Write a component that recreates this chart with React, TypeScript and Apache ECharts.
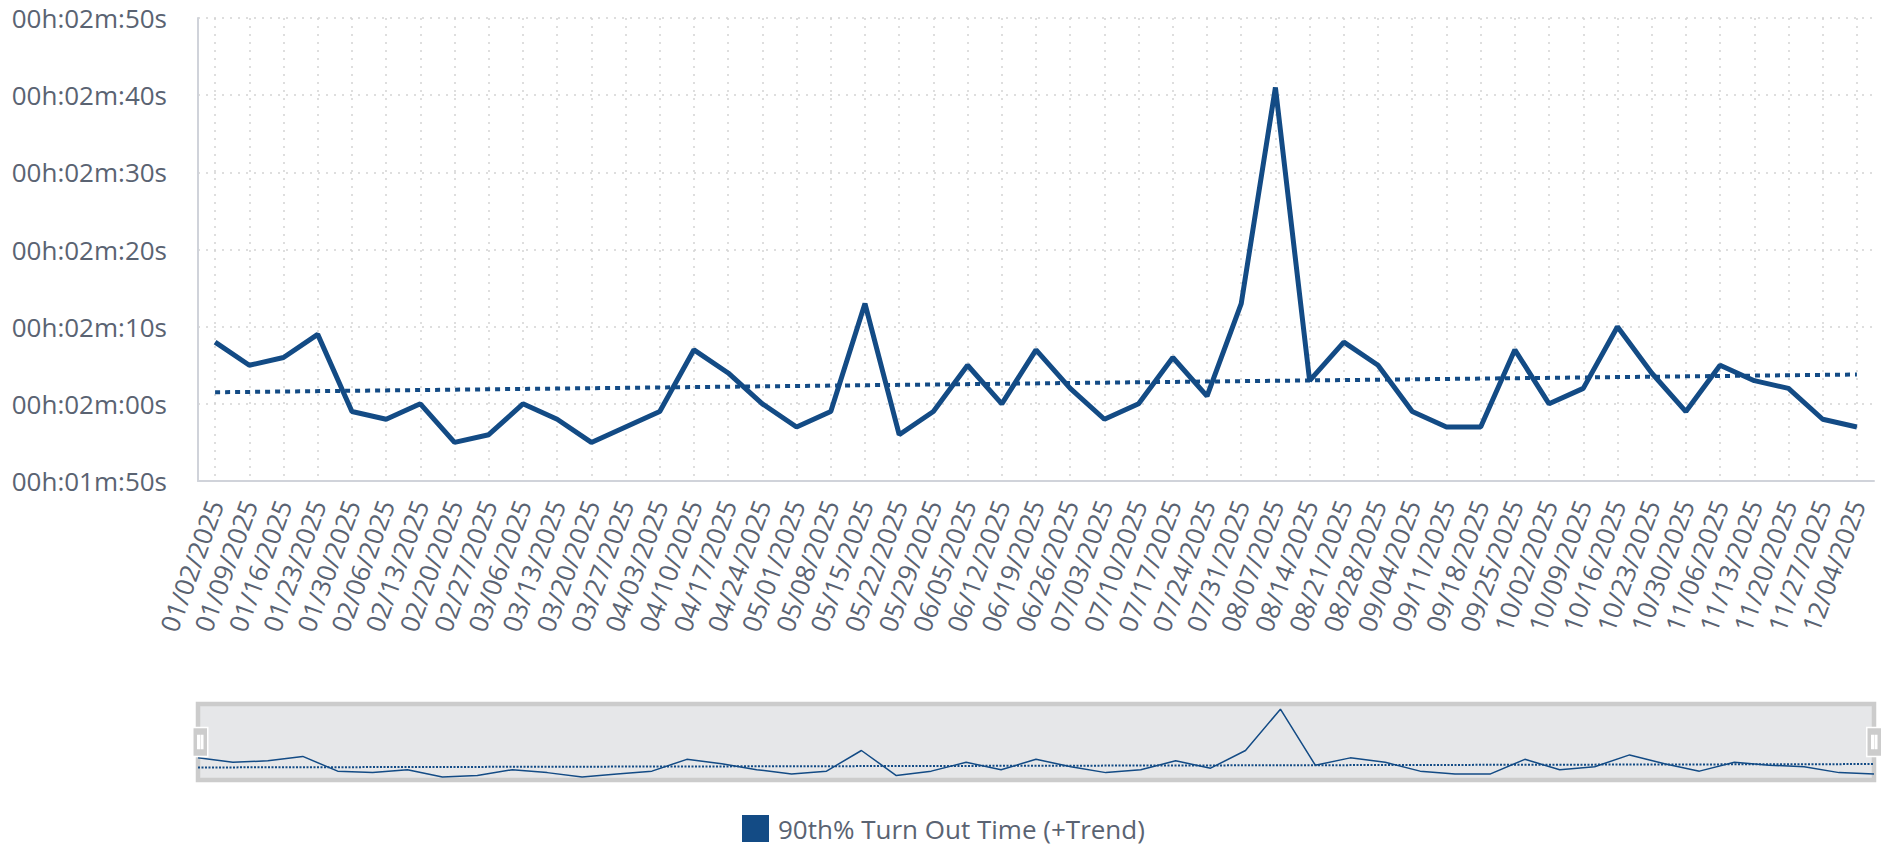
import React, { useEffect, useRef } from 'react';
import * as echarts from 'echarts';

const categories: string[] = [
  '01/02/2025', '01/09/2025', '01/16/2025', '01/23/2025', '01/30/2025', '02/06/2025', '02/13/2025',
  '02/20/2025', '02/27/2025', '03/06/2025', '03/13/2025', '03/20/2025', '03/27/2025', '04/03/2025',
  '04/10/2025', '04/17/2025', '04/24/2025', '05/01/2025', '05/08/2025', '05/15/2025', '05/22/2025',
  '05/29/2025', '06/05/2025', '06/12/2025', '06/19/2025', '06/26/2025', '07/03/2025', '07/10/2025',
  '07/17/2025', '07/24/2025', '07/31/2025', '08/07/2025', '08/14/2025', '08/21/2025', '08/28/2025',
  '09/04/2025', '09/11/2025', '09/18/2025', '09/25/2025', '10/02/2025', '10/09/2025', '10/16/2025',
  '10/23/2025', '10/30/2025', '11/06/2025', '11/13/2025', '11/20/2025', '11/27/2025', '12/04/2025',
];

// 90th percentile turn out time, in seconds
const turnOutSeconds: number[] = [
  128, 125, 126, 129, 119, 118, 120, 115, 116, 120, 118, 115, 117, 119,
  127, 124, 120, 117, 119, 133, 116, 119, 125, 120, 127, 122, 118, 120,
  126, 121, 133, 161, 123, 128, 125, 119, 117, 117, 127, 120, 122, 130,
  124, 119, 125, 123, 122, 118, 117,
];

// trend line values at first and last week (seconds)
const trendEnds: number[] = [121.5, 123.8];

const yMin = 110;
const yMax = 170;
const yStep = 10;

const seriesName = '90th% Turn Out Time (+Trend)';
const lineColor = '#134b85';
const labelColor = '#5a6372';
const gridColor = '#d4d4d4';
const axisColor = '#d0d3da';
const font = 'Open Sans';

const pad = (n: number) => (n < 10 ? '0' + n : '' + n);
const fmtTime = (v: number) => {
  const h = Math.floor(v / 3600);
  const m = Math.floor((v % 3600) / 60);
  const s = Math.round(v % 60);
  return `${pad(h)}h:${pad(m)}m:${pad(s)}s`;
};

export default function App() {
  const ref = useRef<HTMLDivElement>(null);

  useEffect(() => {
    if (!ref.current) return;
    const chart = echarts.init(ref.current, null, { renderer: 'svg' });
    const last = categories.length - 1;
    const trendData = [
      [categories[0], trendEnds[0]],
      [categories[last], trendEnds[1]],
    ];

    chart.setOption({
      animation: false,
      textStyle: { fontFamily: font },
      grid: [
        { left: 198, right: 10, top: 18, bottom: 366, containLabel: false },
        {
          left: 198, right: 10, top: 704, height: 76, show: true,
          backgroundColor: '#e6e7e9', borderColor: '#cccccc', borderWidth: 4.5,
        },
      ],
      xAxis: [
        {
          type: 'category', gridIndex: 0, data: categories, boundaryGap: true,
          axisLine: { show: true, lineStyle: { color: axisColor, width: 2 } },
          axisTick: { show: false },
          axisLabel: {
            interval: 0, rotate: 70, fontSize: 26, color: labelColor, margin: 20, fontFamily: font,
          },
          splitLine: {
            show: true, interval: 0, alignWithLabel: true,
            lineStyle: { color: gridColor, type: [2, 6], width: 1.5 },
          },
        },
        {
          type: 'category', gridIndex: 1, data: categories, boundaryGap: false, show: false,
        },
      ],
      yAxis: [
        {
          type: 'value', gridIndex: 0, min: yMin, max: yMax, interval: yStep,
          axisLine: { show: true, lineStyle: { color: axisColor, width: 2 } },
          axisTick: { show: false },
          axisLabel: { formatter: fmtTime, fontSize: 26, color: labelColor, margin: 31, fontFamily: font },
          splitLine: { show: true, lineStyle: { color: gridColor, type: [2, 6], width: 1.5 } },
        },
        {
          type: 'value', gridIndex: 1, min: 113, max: 164.5, show: false,
          splitLine: { show: false },
        },
      ],
      legend: {
        data: [{ name: seriesName, icon: 'rect' }],
        left: 742, top: 815, itemWidth: 27, itemHeight: 27, padding: 0,
        selectedMode: false,
        textStyle: { fontSize: 26, lineHeight: 27, color: labelColor, fontFamily: font, padding: [0, 0, 0, 4] },
      },
      dataZoom: [
        {
          type: 'slider', xAxisIndex: [0], start: 0, end: 100,
          left: 198, right: 10, top: 704, height: 76,
          backgroundColor: 'rgba(0,0,0,0)', fillerColor: 'rgba(0,0,0,0)', borderColor: 'rgba(0,0,0,0)',
          showDataShadow: false, showDetail: false, brushSelect: false, moveHandleSize: 0,
          handleIcon: 'path://M0,0H15V29H0Z M5,8V21H6.5V8Z M8.5,8V21H10V8Z',
          handleSize: 29,
          handleStyle: { color: '#cccccc', borderColor: '#ffffff', borderWidth: 1.5 },
          emphasis: { handleStyle: { color: '#cccccc', borderColor: '#ffffff', borderWidth: 1.5 } },
          moveHandleStyle: { opacity: 0 },
        },
      ],
      series: [
        {
          name: seriesName, type: 'line', xAxisIndex: 0, yAxisIndex: 0,
          data: turnOutSeconds, symbol: 'none', showSymbol: false,
          lineStyle: { color: lineColor, width: 5 }, itemStyle: { color: lineColor },
        },
        {
          name: 'Trend', type: 'line', xAxisIndex: 0, yAxisIndex: 0,
          data: trendData, symbol: 'none', showSymbol: false,
          lineStyle: { color: lineColor, width: 4, type: [5, 5] }, itemStyle: { color: lineColor },
        },
        {
          name: 'shadow', type: 'line', xAxisIndex: 1, yAxisIndex: 1,
          data: turnOutSeconds, symbol: 'none', showSymbol: false, silent: true,
          lineStyle: { color: lineColor, width: 1.5 }, itemStyle: { color: lineColor },
        },
        {
          name: 'shadowTrend', type: 'line', xAxisIndex: 1, yAxisIndex: 1,
          data: trendData, symbol: 'none', showSymbol: false, silent: true,
          lineStyle: { color: lineColor, width: 2, type: [2, 1.5] }, itemStyle: { color: lineColor },
        },
      ],
    });

    return () => chart.dispose();
  }, []);

  return (
    <div
      ref={ref}
      style={{ position: 'fixed', left: 0, top: 0, width: 1884, height: 847, background: '#ffffff' }}
    />
  );
}
